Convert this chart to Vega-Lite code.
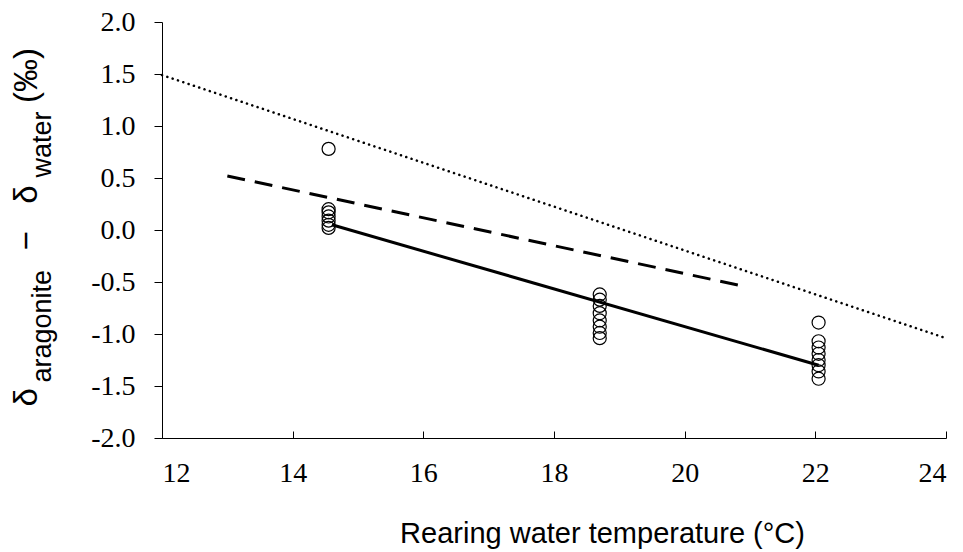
{
  "$schema": "https://vega.github.io/schema/vega-lite/v6.json",
  "autosize": "none",
  "width": 784,
  "height": 416,
  "padding": {"left": 162, "top": 22, "right": 17, "bottom": 114},
  "background": "white",
  "config": {"view": {"stroke": null}},
  "datasets": {
    "obs": [
      {"temp": 14.55, "d": 0.78},
      {"temp": 14.55, "d": 0.2},
      {"temp": 14.55, "d": 0.17},
      {"temp": 14.55, "d": 0.13},
      {"temp": 14.55, "d": 0.09},
      {"temp": 14.55, "d": 0.05},
      {"temp": 14.55, "d": 0.02},
      {"temp": 18.7, "d": -0.62},
      {"temp": 18.7, "d": -0.67},
      {"temp": 18.7, "d": -0.73},
      {"temp": 18.7, "d": -0.8},
      {"temp": 18.7, "d": -0.87},
      {"temp": 18.7, "d": -0.93},
      {"temp": 18.7, "d": -0.99},
      {"temp": 18.7, "d": -1.04},
      {"temp": 22.05, "d": -0.89},
      {"temp": 22.05, "d": -1.07},
      {"temp": 22.05, "d": -1.13},
      {"temp": 22.05, "d": -1.19},
      {"temp": 22.05, "d": -1.25},
      {"temp": 22.05, "d": -1.3},
      {"temp": 22.05, "d": -1.36},
      {"temp": 22.05, "d": -1.43}
    ],
    "fits": [
      {"line": "dotted", "temp": 12, "d": 1.49},
      {"line": "dotted", "temp": 24, "d": -1.04},
      {"line": "dashed", "temp": 13, "d": 0.52},
      {"line": "dashed", "temp": 20.9, "d": -0.54},
      {"line": "solid", "temp": 14.6, "d": 0.05},
      {"line": "solid", "temp": 22.05, "d": -1.3}
    ]
  },
  "resolve": {"scale": {"y": "independent"}, "axis": {"y": "independent"}},
  "encoding": {
    "x": {
      "field": "temp", "type": "quantitative",
      "scale": {"domain": [12, 24], "nice": false, "zero": false},
      "axis": {
        "values": [12, 14, 16, 18, 20, 22, 24],
        "title": "Rearing water temperature (°C)",
        "grid": false,
        "domainColor": "black", "tickColor": "black", "domainWidth": 1, "tickWidth": 1,
        "tickSize": -7,
        "labelPadding": 28,
        "labelFont": "Liberation Serif", "labelFontSize": 28, "labelColor": "black",
        "titleFont": "Liberation Sans", "titleFontSize": 29, "titleFontWeight": "normal", "titleColor": "black",
        "titleX": 440, "titleY": 104, "titleAlign": "center", "titleBaseline": "alphabetic"
      }
    }
  },
  "layer": [
    {
      "data": {"name": "fits"},
      "transform": [{"filter": "datum.line === 'dotted'"}],
      "mark": {"type": "line", "color": "black", "strokeWidth": 2.5, "strokeDash": [0.1, 5.5], "strokeCap": "round"},
      "encoding": {
        "y": {
          "field": "d", "type": "quantitative",
          "scale": {"domain": [-2, 2], "nice": false, "zero": false},
          "axis": {
            "orient": "left", "labels": false, "ticks": false, "domain": false, "grid": false,
            "title": "water",
            "titleFont": "Liberation Sans", "titleFontSize": 27, "titleFontWeight": "normal", "titleColor": "black",
            "titleAngle": -90, "titleAlign": "left", "titleBaseline": "alphabetic",
            "titleX": -112, "titleY": 155
          }
        }
      }
    },
    {
      "data": {"name": "fits"},
      "transform": [{"filter": "datum.line === 'dashed'"}],
      "mark": {"type": "line", "color": "black", "strokeWidth": 3, "strokeDash": [18, 10]},
      "encoding": {
        "y": {
          "field": "d", "type": "quantitative",
          "scale": {"domain": [-2, 2], "nice": false, "zero": false},
          "axis": {
            "orient": "left", "labels": false, "ticks": false, "domain": false, "grid": false,
            "title": "aragonite",
            "titleFont": "Liberation Sans", "titleFontSize": 27, "titleFontWeight": "normal", "titleColor": "black",
            "titleAngle": -90, "titleAlign": "left", "titleBaseline": "alphabetic",
            "titleX": -112, "titleY": 360
          }
        }
      }
    },
    {
      "data": {"name": "fits"},
      "transform": [{"filter": "datum.line === 'solid'"}],
      "mark": {"type": "line", "color": "black", "strokeWidth": 3},
      "encoding": {
        "y": {
          "field": "d", "type": "quantitative",
          "scale": {"domain": [-2, 2], "nice": false, "zero": false},
          "axis": null
        }
      }
    },
    {
      "data": {"name": "obs"},
      "mark": {"type": "point", "shape": "circle", "filled": false, "stroke": "black", "strokeWidth": 1.2, "size": 170, "opacity": 1},
      "encoding": {
        "y": {
          "field": "d", "type": "quantitative",
          "scale": {"domain": [-2, 2], "nice": false, "zero": false},
          "axis": {
            "orient": "left",
            "values": [-2, -1.5, -1, -0.5, 0, 0.5, 1, 1.5, 2],
            "labelExpr": "replace(format(datum.value, '.1f'), '\u2212', '-')",
            "grid": false,
            "domainColor": "black", "tickColor": "black", "domainWidth": 1, "tickWidth": 1,
            "tickSize": 8,
            "labelPadding": 19,
            "labelFont": "Liberation Serif", "labelFontSize": 28, "labelColor": "black",
            "title": "δ\u00a0\u00a0\u00a0\u00a0\u00a0\u00a0\u00a0\u00a0\u00a0\u00a0\u00a0\u00a0\u00a0\u00a0\u00a0−\u00a0\u00a0\u00a0δ\u00a0\u00a0\u00a0\u00a0\u00a0\u00a0\u00a0\u00a0\u00a0(‰)",
            "titleFont": "Liberation Sans", "titleFontSize": 33, "titleFontWeight": "normal", "titleColor": "black",
            "titleAngle": -90, "titleAlign": "left", "titleBaseline": "alphabetic",
            "titleX": -126, "titleY": 384
          }
        }
      }
    }
  ]
}
